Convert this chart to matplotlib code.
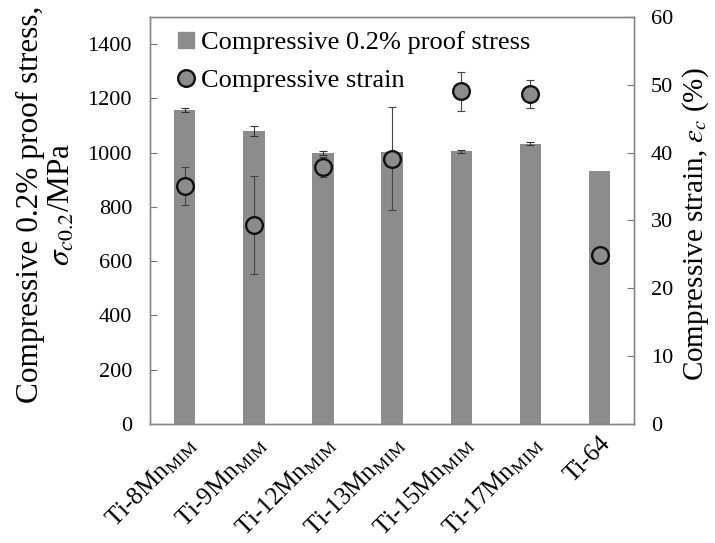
import matplotlib
matplotlib.use("Agg")
import matplotlib.pyplot as plt
from matplotlib.lines import Line2D
import numpy as np

plt.rcParams['font.family'] = ['Liberation Serif', 'DejaVu Serif']
plt.rcParams['mathtext.fontset'] = 'stix'

alloys = ["Ti-8Mn$_{\\mathregular{MIM}}$", "Ti-9Mn$_{\\mathregular{MIM}}$",
          "Ti-12Mn$_{\\mathregular{MIM}}$", "Ti-13Mn$_{\\mathregular{MIM}}$",
          "Ti-15Mn$_{\\mathregular{MIM}}$", "Ti-17Mn$_{\\mathregular{MIM}}$",
          "Ti-64"]
# 0.2% proof stress (MPa) and its scatter
proof_stress = [1157, 1079, 998, 1002, 1005, 1033, 931]
proof_err = [6, 18, 8, 0, 5, 6, 0]
# compressive strain (%) and its scatter
strain = [35.1, 29.3, 37.9, 39.1, 49.0, 48.6, 24.9]
strain_err = [2.8, 7.2, 1.5, 7.6, 2.9, 2.1, 0]

bar_col = '#8c8c8c'
x = np.arange(len(alloys))
ps = np.array(proof_stress, float)
pe = np.array(proof_err, float)
st = np.array(strain, float)
se = np.array(strain_err, float)

fig = plt.figure(figsize=(7.15, 5.43), dpi=100)
ax = fig.add_axes([0.21, 0.219, 0.677, 0.75])
ax.bar(x, ps, width=0.31, color=bar_col, zorder=1)
# only draw error bars where a scatter was reported
m = pe > 0
ax.errorbar(x[m], ps[m], yerr=pe[m], fmt='none', ecolor='#333333',
            elinewidth=0.8, capsize=3, capthick=0.8, zorder=2)
ax.set_ylim(0, 1500)
ax.set_yticks(range(0, 1401, 200))
ax.set_xlim(-0.5, len(alloys) - 0.5)
ax.set_xticks(x)
ax.set_xticklabels(alloys, rotation=45, ha='right', rotation_mode='anchor',
                   fontsize=18)
ax.tick_params(axis='x', length=0, pad=6)
ax.tick_params(axis='y', direction='in', labelsize=16, length=5, pad=13,
               color='#777777')
ax.set_ylabel("Compressive 0.2% proof stress,\n$\\sigma_{c0.2}$/MPa", fontsize=22.5,
              linespacing=1.1)
ax.yaxis.set_label_coords(-0.152, 0.54)

ax2 = ax.twinx()
m = se > 0
ax2.errorbar(x[m], st[m], yerr=se[m], fmt='none', ecolor='#444444',
             elinewidth=0.8, capsize=3, capthick=0.8, zorder=3)
ax2.plot(x, st, 'o', ms=12, mfc=bar_col, mec='#111111', mew=1.7, zorder=4)
ax2.set_ylim(0, 60)
ax2.set_yticks(range(0, 61, 10))
ax2.tick_params(axis='y', direction='in', labelsize=16, length=5, pad=12,
                color='#777777')
ax2.set_ylabel("Compressive strain, $\\varepsilon_c$ (%)", fontsize=21)
ax2.yaxis.set_label_coords(1.096, 0.49)

for a in (ax, ax2):
    for s in a.spines.values():
        s.set_color('#888888')
        s.set_linewidth(1.0)

handles = [Line2D([], [], marker='s', ls='none', color=bar_col, ms=11),
           Line2D([], [], marker='o', ls='none', mfc=bar_col, mec='#111111',
                  mew=1.7, ms=12)]
ax2.legend(handles, ["Compressive 0.2% proof stress", "Compressive strain"],
           loc='upper left', frameon=False, fontsize=19, handletextpad=0.0,
           handlelength=1.1, borderaxespad=0.2, labelspacing=0.55,
           bbox_to_anchor=(0.012, 1.005))

fig.savefig("out.png", dpi=100)
